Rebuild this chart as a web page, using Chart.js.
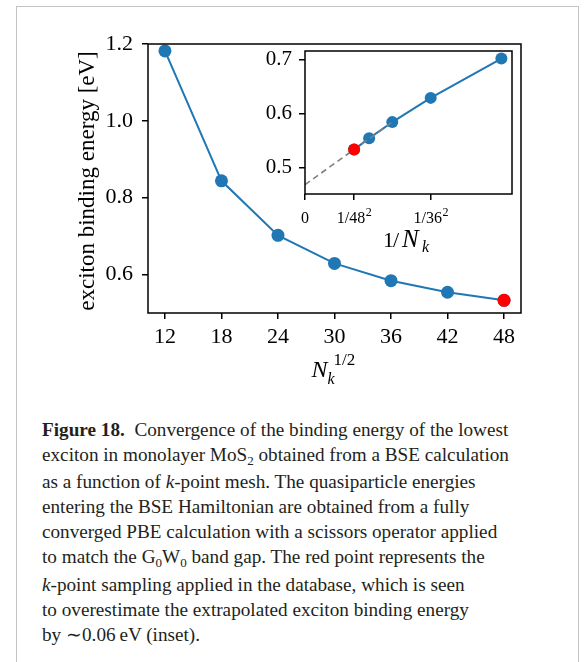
<!DOCTYPE html>
<html>
<head>
<meta charset="utf-8">
<script src="https://cdn.jsdelivr.net/npm/chart.js@4/dist/chart.umd.min.js"></script>
<style>
  body { margin: 0; background: #fff; width: 585px; height: 662px; overflow: hidden; position: relative; font-family: "Liberation Serif", serif; }
  #frame { position: absolute; left: 16px; top: 6px; width: 561px; height: 700px; border: 1px solid #c4c4c4; border-bottom: none; }
  #main { position: absolute; left: 0; top: 0; }
  #inset { position: absolute; left: 250px; top: 30px; }
  #caption { position: absolute; left: 42px; top: 417px; font-size: 19.2px; line-height: 25.1px; color: #231f20; white-space: nowrap; }
  #caption sub { font-size: 0.68em; vertical-align: baseline; position: relative; top: 0.28em; }
</style>
</head>
<body>
<div id="frame"></div>
<canvas id="main" width="585" height="395"></canvas>
<canvas id="inset" width="275" height="240"></canvas>
<div id="caption">
  <div><b>Figure 18.</b>&nbsp; Convergence of the binding energy of the lowest</div>
  <div>exciton in monolayer MoS<sub>2</sub> obtained from a BSE calculation</div>
  <div>as a function of <i>k</i>-point mesh. The quasiparticle energies</div>
  <div>entering the BSE Hamiltonian are obtained from a fully</div>
  <div>converged PBE calculation with a scissors operator applied</div>
  <div>to match the G<sub>0</sub>W<sub>0</sub> band gap. The red point represents the</div>
  <div><i>k</i>-point sampling applied in the database, which is seen</div>
  <div>to overestimate the extrapolated exciton binding energy</div>
  <div>by &#8764;0.06&#8201;eV (inset).</div>
</div>
<script>
// k-point mesh (N_k^(1/2)) and the exciton binding energy in eV
const nkRoot = [12, 18, 24, 30, 36, 42, 48];
const bindingEnergy = [1.182, 0.844, 0.702, 0.629, 0.584, 0.554, 0.533];

// the mesh used in the database (red point)
const databaseNk = [48];
const databaseEnergy = [0.533];

// linear extrapolation shown in the inset (dashed)
const fitInvNk = [0, 1 / 36 ** 2];
const fitEnergy = [0.468, 0.584];

// ticks
const mainXTicks = [12, 18, 24, 30, 36, 42, 48];
const mainYTicks = [0.6, 0.8, 1.0, 1.2];
const insetXTicks = [0, 1 / 48 ** 2, 1 / 30 ** 2];
const insetXTickBase = ['0', '1/48', '1/36'];
const insetXTickSup = ['', '2', '2'];
const insetYTicks = [0.5, 0.6, 0.7];

const SERIF = '"Liberation Serif", "DejaVu Serif", serif';
const BLUE = '#1f77b4';
const RED = '#ff0000';

const insetNk = nkRoot.filter(n => n >= 24);
const insetPoints = insetNk.map(n => ({ x: 1 / n ** 2, y: bindingEnergy[nkRoot.indexOf(n)] }));

const framePlugin = {
    id: 'frame',
    beforeDraw(chart) {
        const { ctx, chartArea: a } = chart;
        ctx.save();
        ctx.fillStyle = '#fff';
        ctx.fillRect(a.left, a.top, a.right - a.left, a.bottom - a.top);
        ctx.restore();
    },
    afterDraw(chart) {
        const { ctx, chartArea: a } = chart;
        ctx.save();
        ctx.strokeStyle = '#000';
        ctx.lineWidth = 1.5;
        ctx.strokeRect(a.left, a.top, a.right - a.left, a.bottom - a.top);
        ctx.restore();
    }
};

// draws text made of several runs (italic, sub, sup)
function drawRuns(ctx, runs) {
    ctx.save();
    ctx.fillStyle = '#000';
    ctx.textBaseline = 'alphabetic';
    ctx.textAlign = 'left';
    runs.forEach(r => {
        ctx.font = r.font;
        ctx.fillText(r.text, r.x, r.y);
    });
    ctx.restore();
}

const tickGrid = { drawOnChartArea: false, drawTicks: true, tickLength: 6, color: '#000', lineWidth: 1.5 };

new Chart(document.getElementById('main'), {
    type: 'line',
    data: {
        datasets: [
            {
                data: databaseNk.map((x, i) => ({ x, y: databaseEnergy[i] })),
                showLine: false,
                pointRadius: 6.5,
                pointBackgroundColor: RED,
                pointBorderWidth: 0,
                clip: false
            },
            {
                data: nkRoot.map((x, i) => ({ x, y: bindingEnergy[i] })),
                borderColor: BLUE,
                borderWidth: 2,
                pointRadius: 6.5,
                pointBackgroundColor: BLUE,
                pointBorderWidth: 0,
                tension: 0,
                clip: false
            }
        ]
    },
    options: {
        responsive: false,
        animation: false,
        events: [],
        layout: { padding: { left: 0, top: 44, right: 64, bottom: 0 } },
        plugins: { legend: { display: false }, tooltip: { enabled: false } },
        scales: {
            x: {
                type: 'linear',
                min: 10.2,
                max: 49.8,
                afterBuildTicks: s => { s.ticks = mainXTicks.map(v => ({ value: v })); },
                afterFit: s => { s.height = 82; },
                grid: tickGrid,
                border: { display: false },
                ticks: { color: '#000', padding: 5, font: { family: SERIF, size: 22 }, maxRotation: 0, callback: v => String(v) }
            },
            y: {
                min: 0.5,
                max: 1.2,
                afterBuildTicks: s => { s.ticks = mainYTicks.map(v => ({ value: v })); },
                afterFit: s => { s.width = 148; },
                grid: tickGrid,
                border: { display: false },
                ticks: { color: '#000', padding: 9, font: { family: SERIF, size: 22 }, callback: v => v.toFixed(1) }
            }
        }
    },
    plugins: [framePlugin, {
        id: 'axisLabels',
        afterDraw(chart) {
            const a = chart.chartArea;
            const ctx = chart.ctx;
            // y title
            ctx.save();
            ctx.translate(88, (a.top + a.bottom) / 2 + 2.5);
            ctx.rotate(-Math.PI / 2);
            ctx.font = '23px ' + SERIF;
            ctx.fillStyle = '#000';
            ctx.textAlign = 'center';
            ctx.textBaseline = 'middle';
            ctx.fillText('exciton binding energy [eV]', 0, 0);
            ctx.restore();
            // x title N_k^{1/2}
            const x0 = (a.left + a.right) / 2 - 23;
            const y0 = a.bottom + 64;
            drawRuns(ctx, [
                { text: 'N', font: 'italic 24px ' + SERIF, x: x0, y: y0 },
                { text: 'k', font: 'italic 16px ' + SERIF, x: x0 + 16, y: y0 + 7 },
                { text: '1/2', font: '17px ' + SERIF, x: x0 + 22, y: y0 - 12 }
            ]);
        }
    }]
});

new Chart(document.getElementById('inset'), {
    type: 'line',
    data: {
        datasets: [
            {
                data: databaseNk.map((n, i) => ({ x: 1 / n ** 2, y: databaseEnergy[i] })),
                showLine: false,
                pointRadius: 6,
                pointBackgroundColor: RED,
                pointBorderWidth: 0,
                clip: false
            },
            {
                data: fitInvNk.map((x, i) => ({ x, y: fitEnergy[i] })),
                borderColor: '#808080',
                borderWidth: 1.6,
                borderDash: [6, 4],
                pointRadius: 0
            },
            {
                data: insetPoints,
                borderColor: BLUE,
                borderWidth: 2,
                pointRadius: 6,
                pointBackgroundColor: BLUE,
                pointBorderWidth: 0,
                clip: false
            }
        ]
    },
    options: {
        responsive: false,
        animation: false,
        events: [],
        layout: { padding: { left: 0, top: 21, right: 13, bottom: 0 } },
        plugins: { legend: { display: false }, tooltip: { enabled: false } },
        scales: {
            x: {
                type: 'linear',
                min: 0,
                max: 0.00183,
                afterBuildTicks: s => { s.ticks = insetXTicks.map(v => ({ value: v })); },
                afterFit: s => { s.height = 76; },
                grid: tickGrid,
                border: { display: false },
                ticks: { display: false }
            },
            y: {
                min: 0.4506,
                max: 0.716,
                afterBuildTicks: s => { s.ticks = insetYTicks.map(v => ({ value: v })); },
                afterFit: s => { s.width = 55; },
                grid: tickGrid,
                border: { display: false },
                ticks: { color: '#000', padding: 7, font: { family: SERIF, size: 21 }, callback: v => v.toFixed(1) }
            }
        }
    },
    plugins: [framePlugin, {
        id: 'insetLabels',
        afterDraw(chart) {
            const a = chart.chartArea;
            const ctx = chart.ctx;
            const xs = chart.scales.x;
            // x tick labels with superscripts
            const baseFont = '16px ' + SERIF;
            const supFont = '12px ' + SERIF;
            insetXTicks.forEach((v, i) => {
                ctx.save();
                ctx.font = baseFont;
                const wb = ctx.measureText(insetXTickBase[i]).width;
                ctx.font = supFont;
                const ws = insetXTickSup[i] ? ctx.measureText(insetXTickSup[i]).width : 0;
                ctx.restore();
                const px = xs.getPixelForValue(v);
                const start = px - (wb + ws) / 2;
                const y = a.bottom + 29;
                drawRuns(ctx, [
                    { text: insetXTickBase[i], font: baseFont, x: start, y },
                    { text: insetXTickSup[i], font: supFont, x: start + wb + 0.5, y: y - 7 }
                ]);
            });
            // x title 1/N_k
            const x0 = (a.left + a.right) / 2 - 25.5;
            const y0 = a.bottom + 53;
            drawRuns(ctx, [
                { text: '1', font: '22px ' + SERIF, x: x0, y: y0 },
                { text: '/', font: '22px ' + SERIF, x: x0 + 10, y: y0 },
                { text: 'N', font: 'italic 25px ' + SERIF, x: x0 + 19, y: y0 },
                { text: 'k', font: 'italic 16px ' + SERIF, x: x0 + 39, y: y0 + 5 }
            ]);
        }
    }]
});
</script>
</body>
</html>
